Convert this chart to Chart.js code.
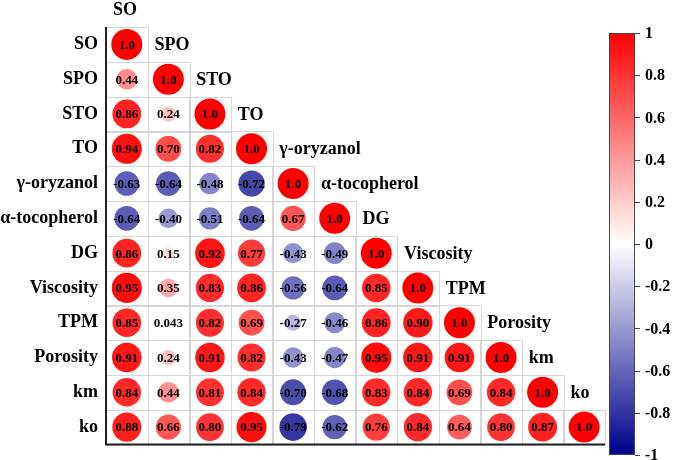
<!DOCTYPE html>
<html>
<head>
<meta charset="utf-8">
<script src="https://cdn.jsdelivr.net/npm/chart.js@4"></script>
<style>
  body { margin: 0; background: #fff; }
</style>
</head>
<body>
<canvas id="corrChart" width="679" height="460"></canvas>
<script>
const names = ['SO', 'SPO', 'STO', 'TO', 'γ-oryzanol', 'α-tocopherol', 'DG',
  'Viscosity', 'TPM', 'Porosity', 'km', 'ko'];

// lower triangle, row by row
const rowSO = [1.0];
const rowSPO = [0.44, 1.0];
const rowSTO = [0.86, 0.24, 1.0];
const rowTO = [0.94, 0.70, 0.82, 1.0];
const rowOryzanol = [-0.63, -0.64, -0.48, -0.72, 1.0];
const rowTocopherol = [-0.64, -0.40, -0.51, -0.64, 0.67, 1.0];
const rowDG = [0.86, 0.15, 0.92, 0.77, -0.43, -0.49, 1.0];
const rowViscosity = [0.95, 0.35, 0.83, 0.86, -0.56, -0.64, 0.85, 1.0];
const rowTPM = [0.85, 0.043, 0.82, 0.69, -0.27, -0.46, 0.86, 0.90, 1.0];
const rowPorosity = [0.91, 0.24, 0.91, 0.82, -0.43, -0.47, 0.95, 0.91, 0.91, 1.0];
const rowKm = [0.84, 0.44, 0.81, 0.84, -0.70, -0.68, 0.83, 0.84, 0.69, 0.84, 1.0];
const rowKo = [0.88, 0.66, 0.80, 0.95, -0.79, -0.62, 0.76, 0.84, 0.64, 0.80, 0.87, 1.0];

const colorbarTicks = [1, 0.8, 0.6, 0.4, 0.2, 0, -0.2, -0.4, -0.6, -0.8, -1];

const rows = [rowSO, rowSPO, rowSTO, rowTO, rowOryzanol, rowTocopherol, rowDG,
  rowViscosity, rowTPM, rowPorosity, rowKm, rowKo];

const points = [];
rows.forEach((row, i) => {
  row.forEach((v, j) => points.push({ x: j, y: i, v: v }));
});

function corrColor(v) {
  const t = Math.min(1, Math.abs(v));
  if (v >= 0) {
    const g = Math.round(255 * (1 - t));
    return 'rgb(255,' + g + ',' + g + ')';
  }
  const rg = Math.round(255 * (1 - t));
  const b = Math.round(255 - t * (255 - 139));
  return 'rgb(' + rg + ',' + rg + ',' + b + ')';
}

const labelFont = 'bold 18px "Liberation Serif", "Times New Roman", serif';

const matrixPlugin = {
  id: 'matrix',
  beforeDatasetsDraw(chart) {
    const { ctx, scales: { x, y } } = chart;
    const cw = x.getPixelForValue(1) - x.getPixelForValue(0);
    const ch = y.getPixelForValue(1) - y.getPixelForValue(0);
    ctx.save();
    ctx.strokeStyle = '#d6d6d6';
    ctx.lineWidth = 1;
    rows.forEach((row, i) => {
      row.forEach((v, j) => {
        const cx = x.getPixelForValue(j), cy = y.getPixelForValue(i);
        ctx.strokeRect(Math.round(cx - cw / 2) + 0.5, Math.round(cy - ch / 2) + 0.5, Math.round(cw), Math.round(ch));
      });
    });
    ctx.restore();
  },
  afterDatasetsDraw(chart) {
    const { ctx, chartArea: area, scales: { x, y } } = chart;
    const cw = x.getPixelForValue(1) - x.getPixelForValue(0);
    ctx.save();
    // values
    ctx.fillStyle = '#000';
    ctx.textAlign = 'center';
    ctx.textBaseline = 'middle';
    ctx.font = 'bold 13px "Liberation Serif", "Times New Roman", serif';
    points.forEach(p => {
      ctx.fillText(p.v.toPrecision(2), x.getPixelForValue(p.x), y.getPixelForValue(p.y) + 1);
    });
    // column names above each diagonal cell
    ctx.font = labelFont;
    ctx.textAlign = 'left';
    names.forEach((n, j) => {
      ctx.fillText(n, x.getPixelForValue(j) - cw / 2 + 7, y.getPixelForValue(j - 1) + 1);
    });
    // axis lines
    ctx.strokeStyle = '#222';
    ctx.lineWidth = 2;
    ctx.beginPath();
    ctx.moveTo(area.left, area.top);
    ctx.lineTo(area.left, area.bottom);
    ctx.lineTo(area.right, area.bottom);
    ctx.stroke();

    // colorbar
    const left = 609, right = 635, top = 33, bottom = 455;
    const grad = ctx.createLinearGradient(0, top, 0, bottom);
    grad.addColorStop(0, corrColor(1));
    grad.addColorStop(0.5, corrColor(0));
    grad.addColorStop(1, corrColor(-1));
    ctx.fillStyle = grad;
    ctx.fillRect(left, top, right - left, bottom - top);
    ctx.strokeStyle = '#444';
    ctx.lineWidth = 1;
    ctx.strokeRect(left + 0.5, top + 0.5, right - left - 1, bottom - top - 1);
    ctx.fillStyle = '#000';
    ctx.font = 'bold 16px "Liberation Serif", "Times New Roman", serif';
    ctx.textBaseline = 'middle';
    colorbarTicks.forEach(t => {
      const py = top + (1 - t) / 2 * (bottom - top);
      ctx.beginPath();
      ctx.moveTo(right, Math.round(py) + 0.5);
      ctx.lineTo(right + 5, Math.round(py) + 0.5);
      ctx.stroke();
      ctx.fillText(String(t), right + 10, py + 1);
    });
    ctx.restore();
  }
};

new Chart(document.getElementById('corrChart'), {
  type: 'bubble',
  data: {
    datasets: [{
      data: points,
      radius: c => 15.5 * Math.sqrt(Math.abs(c.raw.v)),
      hoverRadius: 0,
      backgroundColor: c => corrColor(c.raw.v),
      hoverBackgroundColor: c => corrColor(c.raw.v),
      borderWidth: 0,
      clip: false
    }]
  },
  options: {
    responsive: false,
    animation: false,
    layout: { padding: { top: 27, right: 74, bottom: 2, left: 0 } },
    plugins: { legend: { display: false }, tooltip: { enabled: false } },
    scales: {
      x: { type: 'linear', min: -0.5, max: 11.5, display: false },
      y: {
        type: 'linear',
        min: -0.5,
        max: 11.5,
        reverse: true,
        afterFit: s => { s.width = 106; },
        afterBuildTicks: s => { s.ticks = names.map((n, i) => ({ value: i })); },
        grid: { display: false },
        border: { display: false },
        ticks: {
          color: '#000',
          padding: 0,
          font: { family: '"Liberation Serif", "Times New Roman", serif', size: 18, weight: 'bold' },
          callback: v => names[v]
        }
      }
    }
  },
  plugins: [matrixPlugin]
});
</script>
</body>
</html>
